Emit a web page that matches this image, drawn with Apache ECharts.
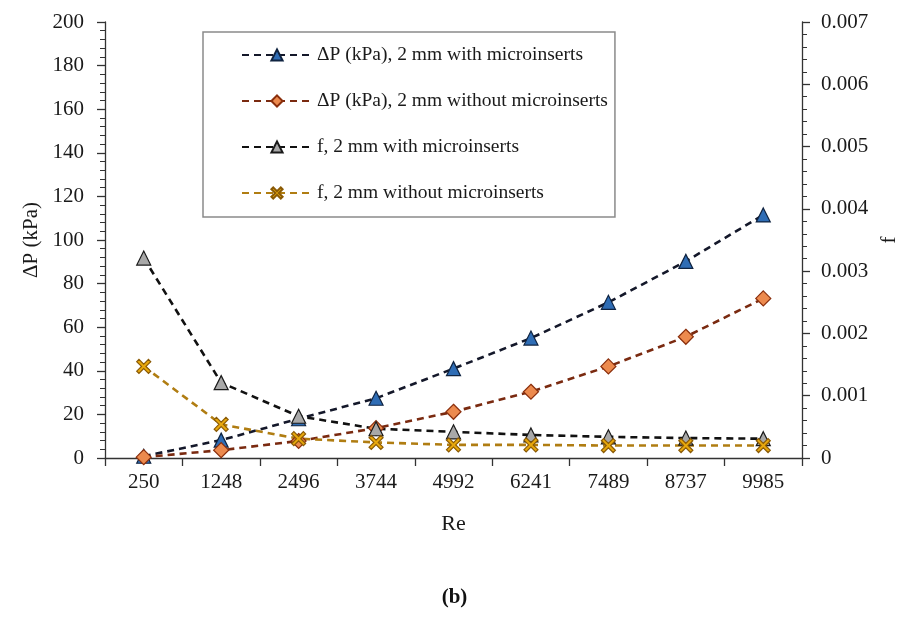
<!DOCTYPE html>
<html>
<head>
<meta charset="utf-8">
<script src="https://cdn.jsdelivr.net/npm/echarts@6/dist/echarts.min.js"></script>
<style>
  html, body { margin: 0; padding: 0; background: #fff; }
  #chart { width: 909px; height: 633px; }
</style>
</head>
<body>
<div id="chart"></div>
<script>
// Reynolds numbers on the category axis
const reynolds = ['250', '1248', '2496', '3744', '4992', '6241', '7489', '8737', '9985'];

// Pressure drop (kPa), left axis
const dpWith    = [0.8, 8.2, 18.0, 27.4, 41.0, 55.0, 71.4, 90.2, 111.5];
const dpWithout = [0.4, 3.6, 7.8, 13.7, 21.2, 30.4, 42.0, 55.6, 73.2];

// Friction factor, right axis
const fWith    = [0.00321, 0.00121, 0.00067, 0.00047, 0.00042, 0.00037, 0.00034, 0.00032, 0.00031];
const fWithout = [0.00147, 0.00054, 0.00031, 0.00025, 0.00021, 0.00021, 0.00020, 0.00020, 0.00020];

const seriesNames = [
  '\u0394P (kPa), 2 mm with microinserts',
  '\u0394P (kPa), 2 mm without microinserts',
  'f, 2 mm with microinserts',
  'f, 2 mm without microinserts'
];

const FONT = '"Liberation Serif", "DejaVu Serif", serif';
const CROSS = 'path://M0,1.6 L1.6,0 L5,3.4 L8.4,0 L10,1.6 L6.6,5 L10,8.4 L8.4,10 L5,6.6 L1.6,10 L0,8.4 L3.4,5 Z';

const chart = echarts.init(document.getElementById('chart'), null, { renderer: 'canvas' });

function lineSeries(name, data, yAxisIndex, lineColor, symbol, size, fill, border) {
  return {
    name: name,
    type: 'line',
    yAxisIndex: yAxisIndex,
    data: data,
    symbol: symbol,
    symbolSize: size,
    lineStyle: { color: lineColor, width: 2.6, type: [7, 5] },
    itemStyle: { color: fill, borderColor: border, borderWidth: 1.2 },
    emphasis: { disabled: true },
    animation: false
  };
}

chart.setOption({
  backgroundColor: '#ffffff',
  textStyle: { fontFamily: FONT },
  grid: { left: 105, right: 107, top: 22, bottom: 175 },
  legend: {
    orient: 'vertical',
    left: 203,
    top: 32,
    padding: [13, 7, 14, 38],
    itemGap: 26,
    itemWidth: 70,
    itemHeight: 14,
    borderColor: '#8a8a8a',
    borderWidth: 1.5,
    backgroundColor: '#ffffff',
    textStyle: { fontFamily: FONT, fontSize: 19.5, color: '#1a1a1a', lineHeight: 20 },
    data: seriesNames
  },
  xAxis: {
    type: 'category',
    data: reynolds,
    boundaryGap: true,
    name: 'Re',
    nameLocation: 'middle',
    nameGap: 55,
    nameTextStyle: { fontFamily: FONT, fontSize: 22, color: '#1a1a1a' },
    axisLine: { lineStyle: { color: '#333', width: 1.3 } },
    axisTick: { show: true, length: 8, inside: false, lineStyle: { color: '#333', width: 1.3 } },
    axisLabel: { fontFamily: FONT, fontSize: 21, color: '#1a1a1a', margin: 14 },
    splitLine: { show: false }
  },
  yAxis: [
    {
      type: 'value',
      min: 0,
      max: 200,
      interval: 20,
      position: 'left',
      name: '\u0394P (kPa)',
      nameLocation: 'middle',
      nameRotate: 90,
      nameGap: 61,
      nameTextStyle: { fontFamily: FONT, fontSize: 21, color: '#1a1a1a' },
      axisLine: { show: true, lineStyle: { color: '#333', width: 1.3 } },
      axisTick: { show: true, length: 8, lineStyle: { color: '#333', width: 1.3 } },
      minorTick: { show: true, splitNumber: 5, length: 5, lineStyle: { color: '#333', width: 1 } },
      axisLabel: { fontFamily: FONT, fontSize: 21, color: '#1a1a1a', margin: 21 },
      splitLine: { show: false }
    },
    {
      type: 'value',
      min: 0,
      max: 0.007,
      interval: 0.001,
      position: 'right',
      name: 'f',
      nameLocation: 'middle',
      nameRotate: 90,
      nameGap: 73,
      nameTextStyle: { fontFamily: FONT, fontSize: 21, color: '#1a1a1a' },
      axisLine: { show: true, lineStyle: { color: '#333', width: 1.3 } },
      axisTick: { show: true, length: 8, lineStyle: { color: '#333', width: 1.3 } },
      minorTick: { show: true, splitNumber: 5, length: 5, lineStyle: { color: '#333', width: 1 } },
      axisLabel: {
        fontFamily: FONT, fontSize: 21, color: '#1a1a1a', margin: 19,
        formatter: function (v) { return v === 0 ? '0' : v.toFixed(3); }
      },
      splitLine: { show: false }
    }
  ],
  series: [
    lineSeries(seriesNames[0], dpWith, 0, '#14182a', 'triangle', 14, '#2f6db5', '#0f2340'),
    lineSeries(seriesNames[1], dpWithout, 0, '#7a2a10', 'diamond', 15, '#ec8a4e', '#8a2e0c'),
    lineSeries(seriesNames[2], fWith, 1, '#111111', 'triangle', 14, '#a8a8a8', '#1a1a1a'),
    lineSeries(seriesNames[3], fWithout, 1, '#b07d12', CROSS, 14, '#e8a80c', '#8a5a06')
  ],
  graphic: [
    {
      type: 'text',
      left: 'center',
      top: 587,
      style: { text: '(b)', font: 'bold 21px ' + FONT, fill: '#111' }
    }
  ]
});
</script>
</body>
</html>
